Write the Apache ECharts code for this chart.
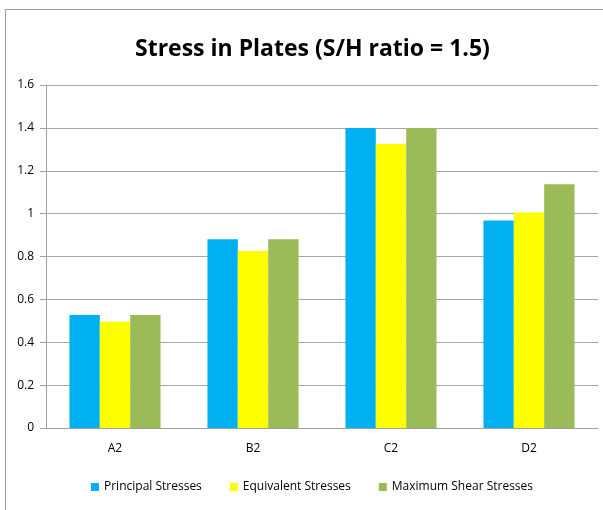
<!DOCTYPE html>
<html>
<head>
<meta charset="utf-8">
<script src="https://cdn.jsdelivr.net/npm/echarts@6/dist/echarts.min.js"></script>
<style>
  html, body { margin: 0; padding: 0; background: #fff; }
  #main { width: 603px; height: 510px; }
</style>
</head>
<body>
<div id="main"></div>
<script>
  var categories = ['A2', 'B2', 'C2', 'D2'];
  var principal = [0.527, 0.88, 1.40, 0.968];
  var equivalent = [0.496, 0.826, 1.325, 1.005];
  var maxShear = [0.527, 0.88, 1.40, 1.137];
  var yTicks = [0, 0.2, 0.4, 0.6, 0.8, 1, 1.2, 1.4, 1.6];

  var font = '"Open Sans", sans-serif';
  var myChart = echarts.init(document.getElementById('main'));

  myChart.setOption({
    animation: false,
    textStyle: { fontFamily: font },
    title: {
      text: 'Stress in Plates (S/H ratio = 1.5)',
      left: 130,
      top: 33,
      textStyle: { fontFamily: font, fontSize: 23, fontWeight: 'bold', color: '#000' }
    },
    graphic: [{
      type: 'rect',
      shape: { x: 5.5, y: 9.5, width: 640, height: 540 },
      style: { fill: 'none', stroke: '#9a9a9a', lineWidth: 1 },
      silent: true
    }],
    legend: {
      bottom: 12,
      left: 86,
      itemWidth: 8,
      itemHeight: 8,
      itemGap: 28,
      icon: 'rect',
      textStyle: { fontFamily: font, fontSize: 12, color: '#000' },
      data: ['Principal Stresses', 'Equivalent Stresses', 'Maximum Shear Stresses']
    },
    grid: { left: 46, right: 5, top: 85, bottom: 82 },
    xAxis: {
      type: 'category',
      data: categories,
      axisLine: { lineStyle: { color: '#a0a0a0' } },
      axisTick: { show: false },
      axisLabel: { color: '#000', fontSize: 12, margin: 15 }
    },
    yAxis: {
      type: 'value',
      min: yTicks[0],
      max: yTicks[yTicks.length - 1],
      interval: 0.2,
      axisLine: { show: true, lineStyle: { color: '#a0a0a0' } },
      axisTick: { show: true, length: 6, lineStyle: { color: '#a0a0a0' } },
      axisLabel: { color: '#000', fontSize: 12, margin: 12 },
      splitLine: { lineStyle: { color: '#a6a6a6', width: 1 } }
    },
    series: [
      { name: 'Principal Stresses', type: 'bar', data: principal,
        barGap: '0%', barCategoryGap: '34%', itemStyle: { color: '#00b0f0' } },
      { name: 'Equivalent Stresses', type: 'bar', data: equivalent,
        barGap: '0%', barCategoryGap: '34%', itemStyle: { color: '#ffff00' } },
      { name: 'Maximum Shear Stresses', type: 'bar', data: maxShear,
        barGap: '0%', barCategoryGap: '34%', itemStyle: { color: '#9bbb59' } }
    ]
  });
</script>
</body>
</html>
